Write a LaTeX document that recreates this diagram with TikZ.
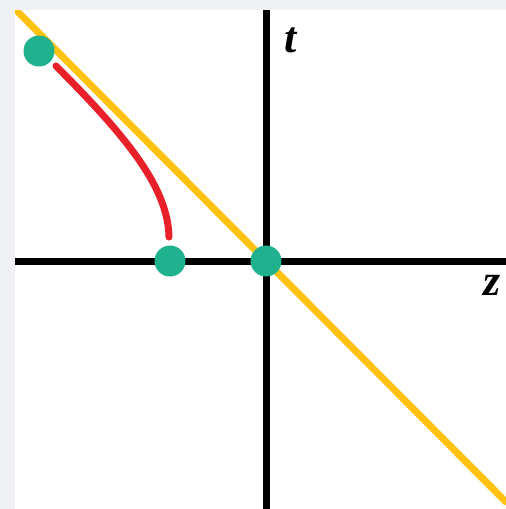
\documentclass[tikz,border=0pt]{standalone}
\usepackage{fontspec}
\newfontfamily\lblfont{Liberation Serif}
\definecolor{bggray}{HTML}{F0F1F4}
\definecolor{dotteal}{HTML}{20B28F}
\definecolor{lineyellow}{HTML}{FFC20E}
\definecolor{curvered}{HTML}{E8202A}
\begin{document}
\begin{tikzpicture}[x=1pt,y=-1pt,
  axis/.style={line width=7pt,black},
  dot/.style={circle,fill=dotteal,minimum size=31pt,inner sep=0pt},
  lbl/.style={font=\lblfont\fontsize{44}{44}\selectfont\bfseries\itshape,inner sep=0pt}]
\useasboundingbox (0,0) rectangle (506,509);
\fill[bggray] (0,0) rectangle (506,509);
\fill[white] (15,10) rectangle (506,509);
\begin{scope}
\clip (15,10) rectangle (506,509);
\draw[axis] (266,10) -- (266,509);
\draw[axis] (15,261) -- (506,261);
\draw[line width=7pt,lineyellow] (15,9) -- (507,503);
\end{scope}
\coordinate (c0) at (56,66);
\coordinate (c1) at (169,237);
\draw[line width=7pt,curvered,line cap=round] (c0) .. controls (128,138) and (168,188) .. (c1);
\node[dot] (a) at (39,51) {};
\node[dot] (b) at (170,261) {};
\node[dot] (o) at (266,261) {};
\node[lbl] (t) at (291,40) {t};
\node[lbl] (z) at (492,285) {z};
\end{tikzpicture}
\end{document}
